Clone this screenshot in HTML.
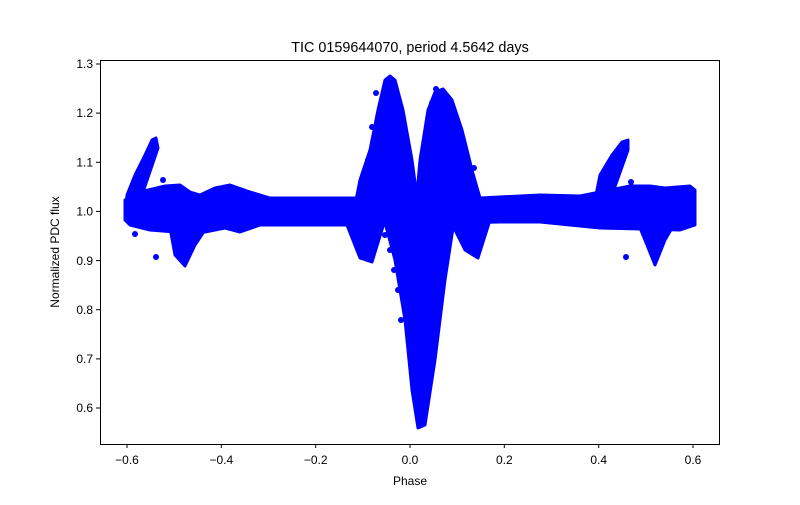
<!DOCTYPE html><html><head><style>body{margin:0;background:#fff}</style></head><body>
<svg width="800" height="500" xmlns="http://www.w3.org/2000/svg" font-family="Liberation Sans, DejaVu Sans, sans-serif">
<rect width="800" height="500" fill="#fff"/>
<g fill="#0000ff" stroke="#0000ff" stroke-width="3" stroke-linejoin="round">
<polygon points="125,200 140,192 165,186 180,185 190,192 200,195 215,188 230,185 250,192 270,198 355,198 480,198 540,195 580,196 600,192 630,186 650,186 665,188 690,186 695,190 695,225 680,230 600,228 540,222 500,222 355,225 300,225 260,225 240,232 225,228 205,232 175,232 150,230 130,225 125,220"/>
<polygon points="170,228 175,255 185,266 195,245 205,230"/>
<polygon points="640,228 645,240 655,265 665,240 672,228"/>
<polygon points="125,215 127,195 135,175 145,155 152,140 156,138 158,148 142,195 130,215"/>
<polygon points="595,200 600,175 612,155 622,142 628,140 628,150 612,195"/>
<polygon points="355,205 360,180 370,150 378,110 385,80 390,76 395,80 403,110 412,160 418,205"/>
<polygon points="416,205 420,160 428,110 435,92 443,89 452,100 462,130 472,170 482,205"/>
<polygon points="383,215 395,260 405,320 412,390 418,428 425,425 435,360 445,280 455,215"/>
<polygon points="345,220 360,258 372,262 385,220"/>
<polygon points="450,220 465,250 478,258 490,220"/>
</g>
<g fill="#0000ff">
<circle cx="156" cy="257" r="3"/><circle cx="626" cy="257" r="3"/><circle cx="135" cy="234" r="3"/>
<circle cx="163" cy="180" r="3"/><circle cx="631" cy="182" r="3"/>
<circle cx="376" cy="93" r="3"/><circle cx="372" cy="127" r="3"/><circle cx="368" cy="160" r="3"/><circle cx="363" cy="186" r="3"/>
<circle cx="436" cy="89" r="3"/><circle cx="432" cy="103" r="3"/><circle cx="474" cy="168" r="3"/>
<circle cx="385" cy="235" r="3"/><circle cx="390" cy="250" r="3"/><circle cx="394" cy="270" r="3"/><circle cx="398" cy="290" r="3"/><circle cx="401" cy="320" r="3"/>
</g>
<rect x="100.5" y="60.5" width="619" height="384" fill="none" stroke="#000" stroke-width="1"/>
<g stroke="#000" stroke-width="1">
<line x1="127" y1="444" x2="127" y2="448"/><line x1="221.3" y1="444" x2="221.3" y2="448"/><line x1="315.7" y1="444" x2="315.7" y2="448"/><line x1="410" y1="444" x2="410" y2="448"/><line x1="504.3" y1="444" x2="504.3" y2="448"/><line x1="598.7" y1="444" x2="598.7" y2="448"/><line x1="693" y1="444" x2="693" y2="448"/>
<line x1="96" y1="408" x2="100" y2="408"/><line x1="96" y1="358.9" x2="100" y2="358.9"/><line x1="96" y1="309.7" x2="100" y2="309.7"/><line x1="96" y1="260.6" x2="100" y2="260.6"/><line x1="96" y1="211.4" x2="100" y2="211.4"/><line x1="96" y1="162.3" x2="100" y2="162.3"/><line x1="96" y1="113.1" x2="100" y2="113.1"/><line x1="96" y1="64" x2="100" y2="64"/>
</g>
<g font-size="12" fill="#000" text-anchor="middle">
<text x="127" y="464">−0.6</text><text x="221.3" y="464">−0.4</text><text x="315.7" y="464">−0.2</text><text x="410" y="464">0.0</text><text x="504.3" y="464">0.2</text><text x="598.7" y="464">0.4</text><text x="693" y="464">0.6</text>
</g>
<g font-size="12" fill="#000" text-anchor="end">
<text x="93" y="412">0.6</text><text x="93" y="363">0.7</text><text x="93" y="314">0.8</text><text x="93" y="265">0.9</text><text x="93" y="215.5">1.0</text><text x="93" y="166.5">1.1</text><text x="93" y="117">1.2</text><text x="93" y="68">1.3</text>
</g>
<text x="410" y="485" font-size="12" text-anchor="middle">Phase</text>
<text x="59" y="252" font-size="12" text-anchor="middle" transform="rotate(-90 59 252)">Normalized PDC flux</text>
<text x="410" y="52" font-size="14.4" text-anchor="middle">TIC 0159644070, period 4.5642 days</text>
</svg>
</body></html>
